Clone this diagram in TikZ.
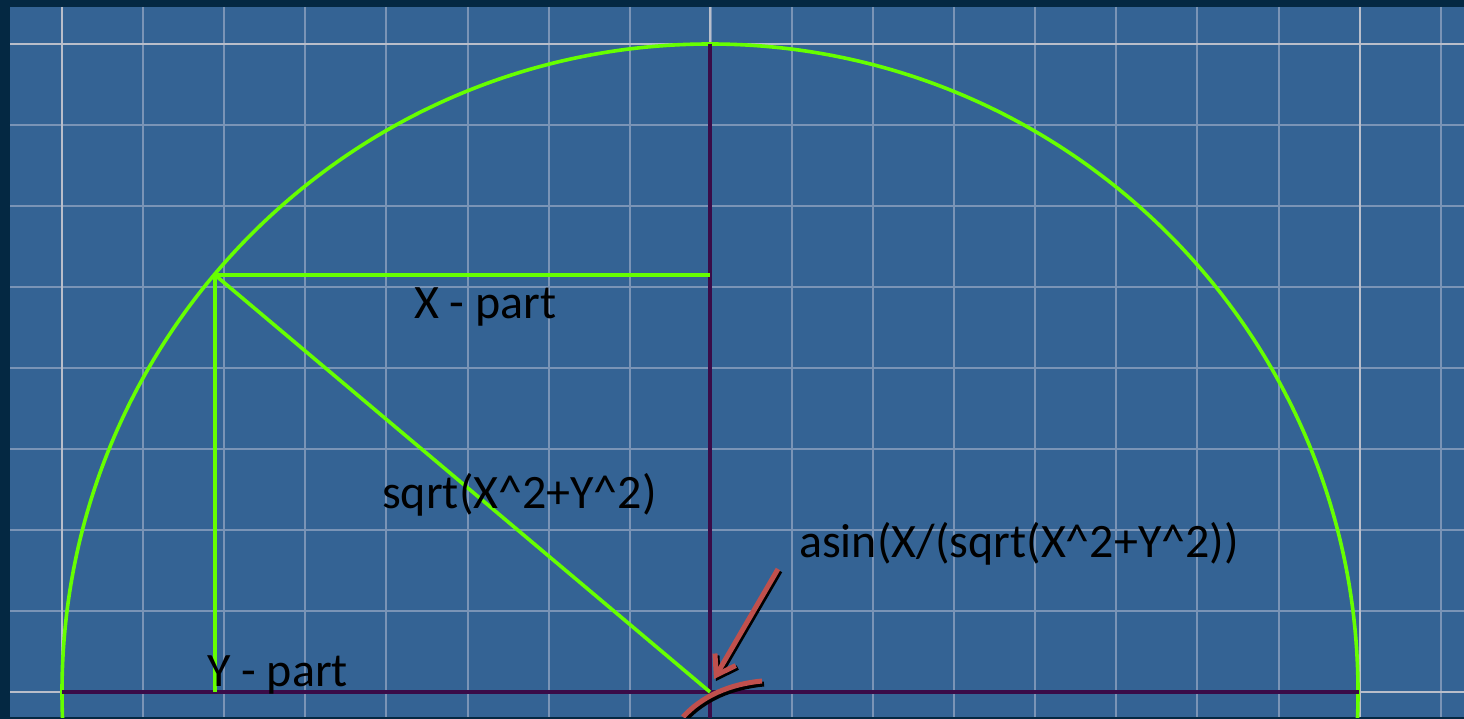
\documentclass[tikz,border=0pt]{standalone}
\usepackage{fontspec}
\setmainfont{Carlito}
\usetikzlibrary{arrows.meta}
\definecolor{bgdark}{RGB}{4,40,66}
\definecolor{bgblue}{RGB}{52,99,148}
\definecolor{gridminor}{RGB}{122,148,182}
\definecolor{gridmajor}{RGB}{185,190,202}
\definecolor{lime}{RGB}{102,255,0}
\definecolor{axispurple}{RGB}{58,12,72}
\definecolor{arrowred}{RGB}{192,80,77}
\tikzset{
  minorgrid/.style={gridminor, line width=2pt},
  majorgrid/.style={gridmajor, line width=2.5pt},
  greenline/.style={lime, line width=3.6pt},
  axisline/.style={axispurple, line width=4.5pt},
  redline/.style={arrowred, line width=5pt},
  shadowline/.style={black, line width=5pt},
  label/.style={font=\fontsize{48}{54}\selectfont, text=black, anchor=base west, inner sep=0pt}
}
\begin{document}
\begin{tikzpicture}[x=1pt,y=-1pt]
\useasboundingbox (0,0) rectangle (1464,719);
\fill[bgdark] (0,0) rectangle (1464,719);
\fill[bgblue] (10,7) rectangle (1464,717);
\begin{scope}
\clip (10,7) rectangle (1464,717);
% minor grid
\foreach \i in {0,...,17} {
  \draw[minorgrid] ({62+81.1*\i},7) -- ({62+81.1*\i},717);
}
\foreach \j in {0,...,8} {
  \draw[minorgrid] (10,{44+81*\j}) -- (1464,{44+81*\j});
}
% major grid
\draw[majorgrid] (62,7) -- (62,717);
\draw[majorgrid] (710,7) -- (710,717);
\draw[majorgrid] (1360,7) -- (1360,717);
\draw[majorgrid] (10,44) -- (1464,44);
\draw[majorgrid] (10,692) -- (1464,692);
% named points
\coordinate (O) at (710,692);
\coordinate (P) at (215,275);
\coordinate (Xe) at (710,275);
\coordinate (Ye) at (215,692);
\coordinate (Top) at (710,44);
\coordinate (Bot) at (710,719);
\coordinate (Lft) at (62,692);
\coordinate (Rgt) at (1359,692);
% circle
\draw[greenline] (O) circle[radius=648];
% axes
\draw[axisline] (Top) -- (Bot);
\draw[axisline] (Lft) -- (Rgt);
% triangle
\draw[greenline] (P) -- (Xe);
\draw[greenline] (P) -- (Ye);
\draw[greenline] (P) -- (O);
% red arc with shadow
\coordinate (A1) at (683,717);
\coordinate (A2) at (762,681);
\coordinate (As) at (778,569);
\coordinate (At) at (714,679);
\draw[shadowline] ([shift={(2,3)}]A1) .. controls ([shift={(2,3)}]702,696) and ([shift={(2,3)}]730,684) .. ([shift={(2,3)}]A2);
\draw[redline] (A1) .. controls (702,696) and (730,684) .. (A2);
\draw[shadowline, -{Straight Barb[length=18pt,width=24pt]}] ([shift={(2,2)}]As) -- ([shift={(2,2)}]At);
\draw[redline, -{Straight Barb[length=18pt,width=24pt]}] (As) -- (At);
\end{scope}
% labels
\node[label] (xpart) at (414,318) {X - part};
\node[label] (ypart) at (207,686) {Y - part};
\node[label] (hyp) at (382,508) {sqrt(X\^{}2+Y\^{}2)};
\node[label] (ang) at (799,557) {asin(X/(sqrt(X\^{}2+Y\^{}2))};
\end{tikzpicture}
\end{document}
